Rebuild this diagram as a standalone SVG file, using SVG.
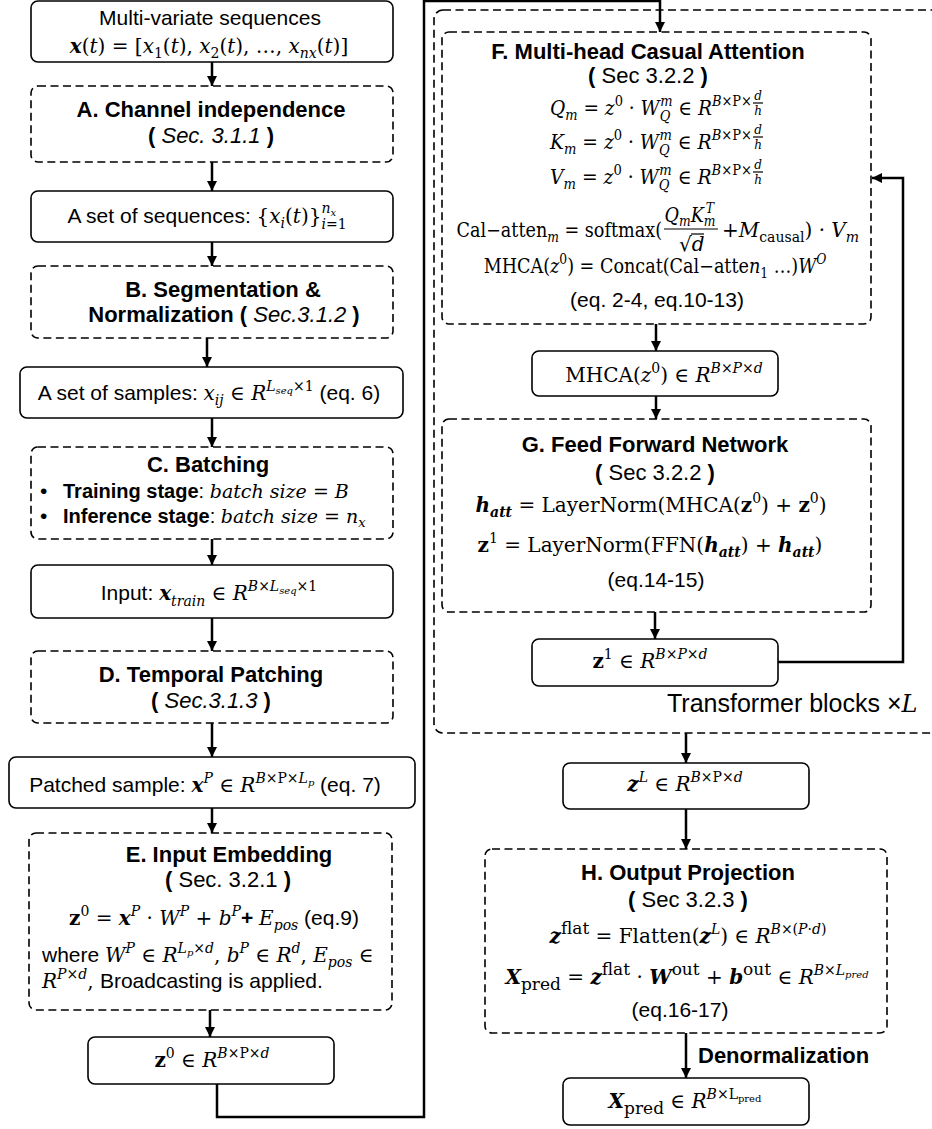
<svg xmlns="http://www.w3.org/2000/svg" width="932" height="1129" viewBox="0 0 932 1129">
<style>
.s{font-family:"Liberation Sans",Arial,sans-serif;font-size:21px;fill:#000}
.t{font-family:"Liberation Sans",Arial,sans-serif;font-size:22px;font-weight:bold;fill:#000}
.m{font-family:"DejaVu Serif","Liberation Serif",serif;font-size:20px;fill:#000}
.i{font-style:italic}
.n{font-weight:normal}
.bi{font-style:italic;font-weight:bold}
.bu{font-weight:bold}
.p{font-size:14px}
.p2{font-size:17px}
.q{font-size:10px}
.f{font-size:12px}
.c{font-size:19px}
.nd{fill:#fff;stroke:#000;stroke-width:1.6}
.dn{fill:none;stroke:#000;stroke-width:1.6;stroke-dasharray:8 4.5}
.cn{fill:none;stroke:#000;stroke-width:2.5}
.fb{stroke:#000;stroke-width:1.2}
</style>
<defs>
<marker id="ah" markerUnits="userSpaceOnUse" markerWidth="11" markerHeight="11" refX="10" refY="5" orient="auto">
<path d="M0,0 L10,5 L0,10 z" fill="#000"/>
</marker>
</defs>
<rect width="932" height="1129" fill="#fff"/>

<g id="connectors">
<line class="cn" x1="212" y1="62" x2="212" y2="86" marker-end="url(#ah)"/>
<line class="cn" x1="212" y1="162" x2="212" y2="191" marker-end="url(#ah)"/>
<line class="cn" x1="212" y1="242" x2="212" y2="266" marker-end="url(#ah)"/>
<line class="cn" x1="207" y1="338" x2="207" y2="367" marker-end="url(#ah)"/>
<line class="cn" x1="212" y1="418" x2="212" y2="447" marker-end="url(#ah)"/>
<line class="cn" x1="212" y1="539" x2="212" y2="565" marker-end="url(#ah)"/>
<line class="cn" x1="212" y1="618" x2="212" y2="651" marker-end="url(#ah)"/>
<line class="cn" x1="212" y1="723" x2="212" y2="757" marker-end="url(#ah)"/>
<line class="cn" x1="212" y1="808" x2="212" y2="833" marker-end="url(#ah)"/>
<line class="cn" x1="210" y1="1010" x2="210" y2="1037" marker-end="url(#ah)"/>
<polyline class="cn" points="217,1084 217,1117 424,1117 424,1 660,1 660,32" marker-end="url(#ah)"/>
<line class="cn" x1="656" y1="324" x2="656" y2="351" marker-end="url(#ah)"/>
<line class="cn" x1="656" y1="396" x2="656" y2="419" marker-end="url(#ah)"/>
<line class="cn" x1="655" y1="612" x2="655" y2="639" marker-end="url(#ah)"/>
<polyline class="cn" points="778,662 903,662 903,178 872,178" marker-end="url(#ah)"/>
<line class="cn" x1="686" y1="733" x2="686" y2="763" marker-end="url(#ah)"/>
<line class="cn" x1="686" y1="809" x2="686" y2="849" marker-end="url(#ah)"/>
<line class="cn" x1="686" y1="1033" x2="686" y2="1078" marker-end="url(#ah)"/>
<text class="t" x="698" y="1063">Denormalization</text>
</g>

<g id="input-seq">
<rect class="nd" x="31" y="1" width="362" height="61" rx="7"/>
<text class="s" x="210" y="25" text-anchor="middle">Multi-variate sequences</text>
<text class="m" x="209" y="53" text-anchor="middle"><tspan class="bi">x</tspan>(<tspan class="i">t</tspan>) = [<tspan class="i">x</tspan><tspan class="p" dy="5">1</tspan><tspan dy="-5">(</tspan><tspan class="i">t</tspan>), <tspan class="i">x</tspan><tspan class="p" dy="5">2</tspan><tspan dy="-5">(</tspan><tspan class="i">t</tspan>), …, <tspan class="i">x</tspan><tspan class="p i" dy="5">nx</tspan><tspan dy="-5">(</tspan><tspan class="i">t</tspan>)]</text>
</g>

<g id="A">
<rect class="dn" x="31" y="86" width="362" height="76" rx="7"/>
<text class="t" x="211" y="117" text-anchor="middle">A. Channel independence</text>
<text class="t" x="211" y="143" text-anchor="middle">( <tspan class="n i">Sec. 3.1.1</tspan> )</text>
</g>

<g id="set-seq">
<rect class="nd" x="31" y="191" width="362" height="51" rx="7"/>
<text class="s" x="207" y="223" text-anchor="middle">A set of sequences: <tspan class="m">{<tspan class="i">x</tspan><tspan class="p i" dy="5">i</tspan><tspan dy="-5">(</tspan><tspan class="i">t</tspan>)}<tspan class="p i" dy="6">i</tspan><tspan class="p">=1</tspan><tspan class="p i" dx="-25" dy="-16">n</tspan><tspan class="q i" dy="3">x</tspan></tspan></text>
</g>

<g id="B">
<rect class="dn" x="31" y="266" width="362" height="72" rx="7"/>
<text class="t" x="223" y="297" text-anchor="middle">B. Segmentation &amp;</text>
<text class="t" x="224" y="322" text-anchor="middle">Normalization ( <tspan class="n i">Sec.3.1.2</tspan> )</text>
</g>

<g id="set-samples">
<rect class="nd" x="20" y="367" width="383" height="51" rx="7"/>
<text class="s" x="209" y="400" text-anchor="middle">A set of samples: <tspan class="m"><tspan class="i">x</tspan><tspan class="p i" dy="5">ij</tspan><tspan dy="-5"> ∈ </tspan><tspan class="i">R</tspan><tspan class="p i" dy="-9">L</tspan><tspan class="q i" dy="3">seq</tspan><tspan class="p" dy="-3">×1</tspan></tspan><tspan dy="9"> (eq. 6)</tspan></text>
</g>

<g id="C">
<rect class="dn" x="31" y="447" width="362" height="92" rx="7"/>
<text class="t" x="208" y="472" text-anchor="middle">C. Batching</text>
<text class="s" x="40" y="498">•</text>
<text class="s" x="40" y="523">•</text>
<text class="s" x="63" y="498" style="font-size:20px"><tspan class="bu">Training stage</tspan>: <tspan class="m c i">batch size</tspan><tspan class="m c"> = </tspan><tspan class="m c i">B</tspan></text>
<text class="s" x="63" y="523" style="font-size:20px"><tspan class="bu">Inference stage</tspan>: <tspan class="m c i">batch size</tspan><tspan class="m c"> = </tspan><tspan class="m c i">n</tspan><tspan class="m i" style="font-size:13px" dy="4">x</tspan></text>
</g>

<g id="input-train">
<rect class="nd" x="31" y="565" width="362" height="53" rx="7"/>
<text class="s" x="209" y="600" text-anchor="middle">Input: <tspan class="m"><tspan class="bi">x</tspan><tspan class="p i" dy="6">train</tspan><tspan dy="-6"> ∈ </tspan><tspan class="i">R</tspan><tspan class="p i" dy="-9">B</tspan><tspan class="p">×</tspan><tspan class="p i">L</tspan><tspan class="q i" dy="3">seq</tspan><tspan class="p" dy="-3">×1</tspan></tspan></text>
</g>

<g id="D">
<rect class="dn" x="31" y="651" width="362" height="72" rx="7"/>
<text class="t" x="211" y="682" text-anchor="middle">D. Temporal Patching</text>
<text class="t" x="211" y="708" text-anchor="middle">( <tspan class="n i">Sec.3.1.3</tspan> )</text>
</g>

<g id="patched">
<rect class="nd" x="9" y="757" width="406" height="51" rx="7"/>
<text class="s" x="205" y="792" text-anchor="middle">Patched sample: <tspan class="m"><tspan class="bi">x</tspan><tspan class="p i" dy="-9">P</tspan><tspan dy="9"> ∈ </tspan><tspan class="i">R</tspan><tspan class="p i" dy="-9">B</tspan><tspan class="p">×P×</tspan><tspan class="p i">L</tspan><tspan class="q i" dy="3">p</tspan></tspan><tspan dy="6"> (eq. 7)</tspan></text>
</g>

<g id="E">
<rect class="dn" x="29" y="833" width="363" height="177" rx="7"/>
<text class="t" x="229" y="862" text-anchor="middle">E. Input Embedding</text>
<text class="t" x="228" y="887" text-anchor="middle">( <tspan class="n">Sec. 3.2.1</tspan> )</text>
<text class="s" x="214" y="925" text-anchor="middle"><tspan class="m"><tspan class="bu">z</tspan><tspan class="p" dy="-9">0</tspan><tspan dy="9"> = </tspan><tspan class="bi">x</tspan><tspan class="p i" dy="-9">P</tspan><tspan dy="9"> · </tspan><tspan class="i">W</tspan><tspan class="p i" dy="-9">P</tspan><tspan dy="9"> + </tspan><tspan class="i">b</tspan><tspan class="p i" dy="-9">P</tspan></tspan><tspan class="bu" dy="9">+ </tspan><tspan class="m i">E</tspan><tspan class="m p i" dy="5">pos</tspan><tspan dy="-5"> (eq.9)</tspan></text>
<text class="s" x="42" y="962">where <tspan class="m"><tspan class="i">W</tspan><tspan class="p i" dy="-9">P</tspan><tspan dy="9"> ∈ </tspan><tspan class="i">R</tspan><tspan class="p i" dy="-9">L</tspan><tspan class="q i" dy="3">p</tspan><tspan class="p" dy="-3">×</tspan><tspan class="p i">d</tspan><tspan dy="9">, </tspan><tspan class="i">b</tspan><tspan class="p i" dy="-9">P</tspan><tspan dy="9"> ∈ </tspan><tspan class="i">R</tspan><tspan class="p i" dy="-9">d</tspan><tspan dy="9">, </tspan><tspan class="i">E</tspan><tspan class="p i" dy="5">pos</tspan><tspan dy="-5"> ∈</tspan></tspan></text>
<text class="s" x="42" y="988"><tspan class="m"><tspan class="i">R</tspan><tspan class="p i" dy="-9">P</tspan><tspan class="p">×</tspan><tspan class="p i">d</tspan><tspan dy="9">, </tspan></tspan>Broadcasting is applied.</text>
</g>

<g id="z0">
<rect class="nd" x="88" y="1037" width="246" height="47" rx="7"/>
<text class="m" x="212" y="1067" text-anchor="middle"><tspan class="bu">z</tspan><tspan class="p" dy="-9">0</tspan><tspan dy="9"> ∈ </tspan><tspan class="i">R</tspan><tspan class="p i" dy="-9">B</tspan><tspan class="p">×P×</tspan><tspan class="p i">d</tspan></text>
</g>

<g id="transformer">
<rect class="dn" x="434" y="10" width="520" height="723" rx="9"/>
<text class="s" x="667" y="712" style="font-size:25px">Transformer blocks ×<tspan class="m i" style="font-size:24px">L</tspan></text>
</g>

<g id="F">
<rect class="dn" x="442" y="32" width="429" height="292" rx="7"/>
<text class="t" x="648" y="59" text-anchor="middle">F. Multi-head Casual Attention</text>
<text class="t" x="648" y="83" text-anchor="middle">( <tspan class="n">Sec 3.2.2</tspan> )</text>
<text class="m" x="752" y="115" text-anchor="end" textLength="202" lengthAdjust="spacingAndGlyphs"><tspan class="i">Q</tspan><tspan class="p i" dy="5">m</tspan><tspan dy="-5"> = </tspan><tspan class="i">z</tspan><tspan class="p" dy="-9">0</tspan><tspan dy="9"> · </tspan><tspan class="i">W</tspan><tspan class="p i" dy="6">Q</tspan><tspan class="p i" dx="-11" dy="-15">m</tspan><tspan dy="9"> ∈ </tspan><tspan class="i">R</tspan><tspan class="p i" dy="-9">B</tspan><tspan class="p">×P×</tspan></text>
<text class="m f i" x="758" y="100" text-anchor="middle">d</text>
<line class="fb" x1="753" y1="103" x2="763" y2="103"/>
<text class="m f i" x="758" y="115" text-anchor="middle">h</text>
<text class="m" x="752" y="149" text-anchor="end" textLength="202" lengthAdjust="spacingAndGlyphs"><tspan class="i">K</tspan><tspan class="p i" dy="5">m</tspan><tspan dy="-5"> = </tspan><tspan class="i">z</tspan><tspan class="p" dy="-9">0</tspan><tspan dy="9"> · </tspan><tspan class="i">W</tspan><tspan class="p i" dy="6">Q</tspan><tspan class="p i" dx="-11" dy="-15">m</tspan><tspan dy="9"> ∈ </tspan><tspan class="i">R</tspan><tspan class="p i" dy="-9">B</tspan><tspan class="p">×P×</tspan></text>
<text class="m f i" x="758" y="134" text-anchor="middle">d</text>
<line class="fb" x1="753" y1="137" x2="763" y2="137"/>
<text class="m f i" x="758" y="149" text-anchor="middle">h</text>
<text class="m" x="752" y="184" text-anchor="end" textLength="202" lengthAdjust="spacingAndGlyphs"><tspan class="i">V</tspan><tspan class="p i" dy="5">m</tspan><tspan dy="-5"> = </tspan><tspan class="i">z</tspan><tspan class="p" dy="-9">0</tspan><tspan dy="9"> · </tspan><tspan class="i">W</tspan><tspan class="p i" dy="6">Q</tspan><tspan class="p i" dx="-11" dy="-15">m</tspan><tspan dy="9"> ∈ </tspan><tspan class="i">R</tspan><tspan class="p i" dy="-9">B</tspan><tspan class="p">×P×</tspan></text>
<text class="m f i" x="758" y="169" text-anchor="middle">d</text>
<line class="fb" x1="753" y1="172" x2="763" y2="172"/>
<text class="m f i" x="758" y="184" text-anchor="middle">h</text>
<text class="m" transform="translate(662,237) scale(0.88,1)" x="0" y="0" text-anchor="end">Cal−atten<tspan class="p i" dy="5">m</tspan><tspan dy="-5"> = softmax(</tspan></text>
<text class="m" transform="translate(690,222) scale(0.88,1)" x="0" y="0" text-anchor="middle"><tspan class="i">Q</tspan><tspan class="p i" dy="4">m</tspan><tspan class="i" dy="-4">K</tspan><tspan class="p i" dy="4">m</tspan><tspan class="p i" dx="-11" dy="-13">T</tspan></text>
<line class="fb" x1="664" y1="229" x2="718" y2="229"/>
<text class="m" x="679" y="251">√<tspan class="i">d</tspan></text>
<line class="fb" x1="691" y1="234" x2="704" y2="234"/>
<text class="m" x="722" y="237">+<tspan class="i">M</tspan><tspan class="p" dy="5">causal</tspan><tspan dy="-5">) · </tspan><tspan class="i">V</tspan><tspan class="p i" dy="5">m</tspan></text>
<text class="m" transform="translate(655,273) scale(0.88,1)" x="0" y="0" text-anchor="middle">MHCA(<tspan class="i">z</tspan><tspan class="p" dy="-9">0</tspan><tspan dy="9">) = Concat(Cal−atte</tspan><tspan class="i">n</tspan><tspan class="p" dy="5">1</tspan><tspan dy="-5"> …)</tspan><tspan class="i">W</tspan><tspan class="p i" dy="-9">O</tspan></text>
<text class="s" x="657" y="307" text-anchor="middle">(eq. 2-4, eq.10-13)</text>
</g>

<g id="mhca">
<rect class="nd" x="532" y="351" width="246" height="45" rx="7"/>
<text class="m" x="664" y="382" text-anchor="middle">MHCA(<tspan class="i">z</tspan><tspan class="p" dy="-9">0</tspan><tspan dy="9">) ∈ </tspan><tspan class="i">R</tspan><tspan class="p i" dy="-9">B×P×d</tspan></text>
</g>

<g id="G">
<rect class="dn" x="442" y="419" width="429" height="193" rx="7"/>
<text class="t" x="655" y="452" text-anchor="middle">G. Feed Forward Network</text>
<text class="t" x="655" y="480" text-anchor="middle">( <tspan class="n">Sec 3.2.2</tspan> )</text>
<text class="m" x="651" y="512" text-anchor="middle"><tspan class="bi">h</tspan><tspan class="p bi" dy="5">att</tspan><tspan dy="-5"> = LayerNorm(MHCA(</tspan><tspan class="bu">z</tspan><tspan class="p" dy="-9">0</tspan><tspan dy="9">) + </tspan><tspan class="bu">z</tspan><tspan class="p" dy="-9">0</tspan><tspan dy="9">)</tspan></text>
<text class="m" x="650" y="552" text-anchor="middle"><tspan class="bu">z</tspan><tspan class="p" dy="-9">1</tspan><tspan dy="9"> = LayerNorm(FFN(</tspan><tspan class="bi">h</tspan><tspan class="p bi" dy="5">att</tspan><tspan dy="-5">) + </tspan><tspan class="bi">h</tspan><tspan class="p bi" dy="5">att</tspan><tspan dy="-5">)</tspan></text>
<text class="s" x="656" y="587" text-anchor="middle">(eq.14-15)</text>
</g>

<g id="z1">
<rect class="nd" x="532" y="639" width="246" height="47" rx="7"/>
<text class="m" x="650" y="668" text-anchor="middle"><tspan class="bu">z</tspan><tspan class="p" dy="-9">1</tspan><tspan dy="9"> ∈ </tspan><tspan class="i">R</tspan><tspan class="p i" dy="-9">B×P×d</tspan></text>
</g>

<g id="zL">
<rect class="nd" x="563" y="763" width="246" height="46" rx="7"/>
<text class="m" x="685" y="791" text-anchor="middle"><tspan class="bi">z</tspan><tspan class="p i" dy="-9">L</tspan><tspan dy="9"> ∈ </tspan><tspan class="i">R</tspan><tspan class="p i" dy="-9">B</tspan><tspan class="p">×P×</tspan><tspan class="p i">d</tspan></text>
</g>

<g id="H">
<rect class="dn" x="485" y="849" width="402" height="184" rx="7"/>
<text class="t" x="688" y="880" text-anchor="middle">H. Output Projection</text>
<text class="t" x="688" y="907" text-anchor="middle">( <tspan class="n">Sec 3.2.3</tspan> )</text>
<text class="m" x="688" y="943" text-anchor="middle"><tspan class="bi">z</tspan><tspan class="p2" dy="-9">flat</tspan><tspan dy="9"> = Flatten(</tspan><tspan class="bi">z</tspan><tspan class="p i" dy="-9">L</tspan><tspan dy="9">) ∈ </tspan><tspan class="i">R</tspan><tspan class="p i" dy="-9">B</tspan><tspan class="p">×(</tspan><tspan class="p i">P</tspan><tspan class="p">·</tspan><tspan class="p i">d</tspan><tspan class="p">)</tspan></text>
<text class="m" x="687" y="984" text-anchor="middle"><tspan class="bi">X</tspan><tspan class="p2" dy="6">pred</tspan><tspan dy="-6"> = </tspan><tspan class="bi">z</tspan><tspan class="p2" dy="-9">flat</tspan><tspan dy="9"> · </tspan><tspan class="bi">W</tspan><tspan class="p2" dy="-9">out</tspan><tspan dy="9"> + </tspan><tspan class="bi">b</tspan><tspan class="p2" dy="-9">out</tspan><tspan dy="9"> ∈ </tspan><tspan class="i">R</tspan><tspan class="p i" dy="-9">B</tspan><tspan class="p">×</tspan><tspan class="p i">L</tspan><tspan class="q i" dy="3">pred</tspan></text>
<text class="s" x="680" y="1017" text-anchor="middle">(eq.16-17)</text>
</g>

<g id="xpred">
<rect class="nd" x="563" y="1078" width="246" height="47" rx="7"/>
<text class="m" x="685" y="1108" text-anchor="middle"><tspan class="bi">X</tspan><tspan class="p2" dy="6">pred</tspan><tspan dy="-6"> ∈ </tspan><tspan class="i">R</tspan><tspan class="p i" dy="-9">B</tspan><tspan class="p">×L</tspan><tspan class="q" dy="3">pred</tspan></text>
</g>
</svg>
